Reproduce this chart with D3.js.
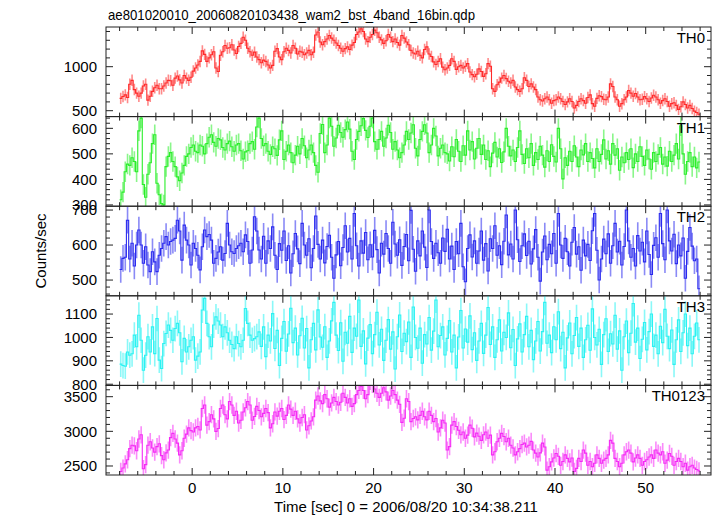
<!DOCTYPE html>
<html><head><meta charset="utf-8">
<script src="https://cdn.jsdelivr.net/npm/d3@7"></script>
<style>body{margin:0;background:#fff}svg{display:block}text{font-family:"Liberation Sans",Arial,Helvetica,sans-serif;fill:#000}</style>
</head><body><svg id="c" width="717" height="516"></svg>
<script>
const title = "ae801020010_20060820103438_wam2_bst_4band_16bin.qdp";
const xLabel = "Time [sec] 0 = 2006/08/20 10:34:38.211";
const yLabel = "Counts/sec";
const binStart = -8, binWidth = 0.25;
const panelNames = ["TH0", "TH1", "TH2", "TH3", "TH0123"];
const panelColors = ["#ff2a2a", "#2aee2a", "#2a2aee", "#2af2f2", "#f52af5"];
const panelErrors = [65, 40, 38, 55, 125];
const xTicks = [0, 10, 20, 30, 40, 50];
const yTicks = [[500, 1000], [300, 400, 500, 600], [500, 600, 700], [800, 900, 1000, 1100], [2500, 3000, 3500]];
const yMinorStep = [100, 20, 20, 20, 100];
const yDomains = [[433, 1451], [295, 646], [455, 711], [795, 1178], [2370, 3663]];

const th0 = [640,662,680,650,800,845,740,700,665,700,780,800,620,665,720,760,790,750,750,780,815,845,840,790,870,895,850,815,900,870,845,880,950,985,1020,1060,1180,1140,1060,1100,1135,1170,985,945,1130,1170,1240,1210,1215,1250,1190,1150,1230,1265,1335,1300,1210,1170,1130,1165,1110,1080,1045,1075,1060,1020,985,1015,1175,1205,1110,1080,1170,1210,1185,1155,1240,1210,1145,1175,1165,1135,1155,1185,1135,1165,1360,1395,1280,1250,1285,1315,1355,1325,1300,1270,1240,1210,1175,1205,1225,1195,1245,1275,1365,1395,1430,1400,1315,1285,1335,1365,1415,1385,1335,1305,1265,1295,1365,1335,1285,1315,1275,1245,1355,1325,1280,1250,1185,1155,1145,1175,1130,1100,1195,1225,1145,1115,1055,1025,1060,1090,995,965,985,1015,1090,1060,970,1000,1015,985,1005,1035,940,910,885,915,975,945,890,920,1035,1005,750,720,795,825,870,900,865,835,815,845,770,740,720,750,875,845,775,805,770,740,655,625,610,635,655,625,585,615,625,655,635,605,570,600,635,605,530,560,605,635,615,585,650,680,580,550,640,670,660,630,625,655,805,775,655,625,550,580,625,655,730,700,665,695,655,625,630,660,635,605,645,675,655,625,585,615,635,605,550,580,590,560,515,545,600,570,530,560,525,495,480,460];
const th1 = [320,350,430,460,455,485,470,430,590,640,380,330,420,465,540,575,385,340,305,300,450,490,505,470,450,410,395,425,455,490,500,525,535,510,505,535,530,500,540,565,575,545,530,560,555,525,515,540,550,528,510,535,540,512,480,508,512,540,548,518,605,640,560,532,540,510,498,528,520,494,555,590,478,510,535,505,465,495,530,500,560,532,485,515,535,505,455,428,580,615,505,535,640,608,530,562,612,584,565,595,625,597,510,478,556,588,610,638,592,564,608,640,548,518,556,588,530,562,612,584,518,548,515,485,505,535,588,556,582,614,522,492,556,588,614,582,505,535,600,570,492,522,535,505,500,472,528,489,556,510,470,532,495,590,515,548,480,522,560,498,535,478,512,450,503,545,488,520,466,508,600,530,492,515,470,525,590,498,462,520,485,540,455,505,478,530,495,448,512,470,536,490,468,600,520,402,485,455,510,470,532,488,450,515,496,540,470,505,482,445,520,470,498,555,480,512,460,540,495,520,436,488,465,505,478,520,446,500,470,528,490,455,515,480,440,505,470,498,525,460,488,452,510,470,495,540,480,610,500,420,470,505,450,488,445,468];
const th2 = [530,562,565,671,560,605,540,600,643,600,548,595,543,524,581,552,524,571,590,605,624,600,610,614,619,671,640,557,657,614,600,543,605,590,571,529,595,643,624,630,614,548,562,580,595,557,576,662,600,581,576,590,598,605,581,629,610,548,586,681,640,586,560,625,548,612,590,652,571,530,604,585,640,556,598,520,575,633,589,547,662,600,571,618,535,590,683,602,560,614,549,596,628,565,505,572,610,541,593,655,580,619,560,690,598,540,612,577,636,558,601,566,642,587,520,605,574,633,590,548,665,603,571,615,542,596,630,555,699,588,525,612,569,640,594,536,700,610,562,605,578,548,620,582,645,560,597,530,610,575,662,538,495,590,629,566,612,548,583,640,557,604,526,618,590,655,571,598,544,611,686,572,603,560,700,615,553,598,632,570,611,546,589,644,565,497,580,626,558,602,575,633,548,690,600,562,619,581,540,608,650,574,595,528,614,569,602,556,641,690,585,500,560,617,575,632,548,598,662,580,611,543,596,700,612,565,590,540,627,583,608,552,640,573,516,599,621,565,690,604,558,700,612,583,631,547,600,569,620,505,582,650,597,555,560,475];
const th3 = [886,880,877,938,924,930,1010,960,1095,988,860,924,1003,938,1045,931,1081,903,867,974,1017,1053,1030,988,1038,1060,1020,896,996,938,960,988,1003,903,920,938,1117,1167,1060,1003,960,1053,1088,1070,1053,1003,1045,1020,988,970,952,1003,974,960,988,1124,1060,1010,988,995,1003,1024,962,1045,918,1010,985,1102,953,1030,880,996,1068,941,1015,1125,978,1040,925,1007,1082,955,1038,870,990,1060,947,1118,1002,958,1046,915,985,1071,1150,1010,944,1063,898,1022,975,1090,936,1040,1005,1160,962,1028,887,997,1055,931,1012,1108,968,1035,902,988,1076,950,1024,865,1003,1096,940,1018,982,1066,915,1130,1000,954,1040,890,1012,972,1085,946,1027,1160,960,1008,1045,925,996,1072,938,1010,870,1002,1115,955,1036,980,1092,948,1020,902,985,1060,932,1010,1128,970,1045,915,990,1075,942,1022,1000,1105,956,1034,880,994,1058,938,1012,1090,960,1030,905,985,1068,942,1025,1150,975,1010,935,1046,990,1110,952,1022,870,998,1062,930,1008,1085,962,1040,915,990,1052,945,1122,1000,968,1035,885,1012,1080,940,1016,972,1095,950,1028,860,1003,1070,935,1018,1145,980,1040,910,992,1064,947,1025,1100,962,1010,930,1048,978,1120,1005,952,1032,885,990,1075,940,1020,1100,965,1040,930,1005,1062,990];
const th0123 = [2420,2470,2530,2590,2750,2800,2790,2720,2890,2950,2460,2520,2800,2850,2760,2700,2780,2820,2650,2590,2690,2730,2910,2970,2890,2830,2660,2720,2900,2960,3050,3010,2990,3050,3070,3020,3330,3380,3090,3140,3240,3180,3000,3040,3330,3380,3240,3180,3430,3380,3230,3290,3120,3160,3280,3340,3430,3380,3160,3215,3360,3300,3210,3260,3330,3270,3050,3110,3280,3220,3290,3330,3170,3230,3380,3320,3230,3290,3180,3120,3200,3240,3020,3080,3150,3210,3450,3510,3440,3400,3530,3470,3350,3410,3490,3430,3380,3420,3550,3490,3410,3470,3360,3400,3530,3590,3650,3590,3470,3530,3720,3680,3610,3550,3490,3550,3630,3570,3450,3510,3590,3530,3450,3390,3130,3190,3470,3430,3140,3185,3210,3165,3230,3290,3210,3165,3290,3230,3140,3185,2990,3050,3160,3120,2730,2780,3090,3140,3070,3015,2950,2990,2900,2945,3090,3045,2920,2975,2930,2870,2950,2990,2900,2945,2660,2705,2850,2900,2970,2925,2850,2900,2800,2760,2660,2705,2750,2810,2830,2775,2800,2855,2730,2685,2630,2690,2830,2775,2440,2490,2560,2615,2680,2640,2510,2565,2660,2610,2560,2615,2420,2465,2610,2565,2730,2685,2510,2565,2490,2540,2660,2610,2540,2585,2610,2660,2870,2830,2610,2565,2490,2540,2660,2705,2730,2685,2560,2615,2660,2610,2510,2565,2590,2630,2660,2610,2730,2685,2660,2705,2540,2585,2680,2640,2510,2565,2610,2565,2490,2540,2440,2490,2510,2470,2450,2430];
const series = [th0, th1, th2, th3, th0123];

const svg = d3.select("#c");
const L = 106, R = 711, T = 27, B = 475;
const ph = (B - T) / 5;
const x = d3.scaleLinear().domain([-9.5, 57.2]).range([L, R]);
const ink = "#222";
const xMinor = d3.range(-8, 57, 2);

svg.append("text").attr("x", 108).attr("y", 20).attr("font-size", 15)
  .attr("textLength", 367).attr("lengthAdjust", "spacingAndGlyphs").text(title);

series.forEach((vals, p) => {
  const top = T + p * ph, bot = top + ph;
  const y = d3.scaleLinear().domain(yDomains[p]).range([bot, top]);
  const g = svg.append("g");
  const clip = "clip" + p;
  svg.append("clipPath").attr("id", clip).append("rect").attr("x", L).attr("y", top).attr("width", R - L).attr("height", ph);
  const dg = g.append("g").attr("clip-path", `url(#${clip})`);
  const col = panelColors[p];
  const err = panelErrors[p];
  dg.selectAll("line.err").data(vals).join("line")
    .attr("x1", (d, i) => x(binStart + (i + 0.5) * binWidth))
    .attr("x2", (d, i) => x(binStart + (i + 0.5) * binWidth))
    .attr("y1", d => y(d - err)).attr("y2", d => y(d + err))
    .attr("stroke", col).attr("stroke-opacity", 0.55).attr("stroke-width", 1.6);
  const pts = [];
  vals.forEach((v, i) => { pts.push([binStart + i * binWidth, v]); pts.push([binStart + (i + 1) * binWidth, v]); });
  dg.append("path").attr("d", d3.line().x(d => x(d[0])).y(d => y(d[1]))(pts))
    .attr("fill", "none").attr("stroke", col).attr("stroke-width", 1.1);

  g.append("rect").attr("x", L).attr("y", top).attr("width", R - L).attr("height", ph)
    .attr("fill", "none").attr("stroke", ink).attr("stroke-width", 1);
  const tk = g.append("g").attr("stroke", ink).attr("stroke-width", 1);
  xMinor.forEach(t => {
    const len = xTicks.includes(t) ? 7 : 4;
    tk.append("line").attr("x1", x(t)).attr("x2", x(t)).attr("y1", bot).attr("y2", bot - len);
    tk.append("line").attr("x1", x(t)).attr("x2", x(t)).attr("y1", top).attr("y2", top + len);
  });
  const [lo, hi] = yDomains[p];
  const st = yMinorStep[p];
  for (let v = Math.ceil(lo / st) * st; v <= hi; v += st) {
    const len = yTicks[p].includes(v) ? 7 : 4;
    tk.append("line").attr("x1", L).attr("x2", L + len).attr("y1", y(v)).attr("y2", y(v));
    tk.append("line").attr("x1", R).attr("x2", R - len).attr("y1", y(v)).attr("y2", y(v));
  }
  g.selectAll("text.yt").data(yTicks[p]).join("text")
    .attr("x", 97).attr("y", d => y(d)).attr("dy", "0.36em")
    .attr("text-anchor", "end").attr("font-size", 15).text(d => d);
  g.append("text").attr("x", 705).attr("y", top + 16).attr("text-anchor", "end")
    .attr("font-size", 15).text(panelNames[p]);
});

svg.selectAll("text.xt").data(xTicks).join("text")
  .attr("x", d => x(d)).attr("y", 493).attr("text-anchor", "middle").attr("font-size", 15).text(d => d);
svg.append("text").attr("x", 406).attr("y", 512).attr("text-anchor", "middle").attr("font-size", 15).text(xLabel);
svg.append("text").attr("transform", "translate(46,251) rotate(-90)").attr("text-anchor", "middle").attr("font-size", 15).text(yLabel);
</script></body></html>
